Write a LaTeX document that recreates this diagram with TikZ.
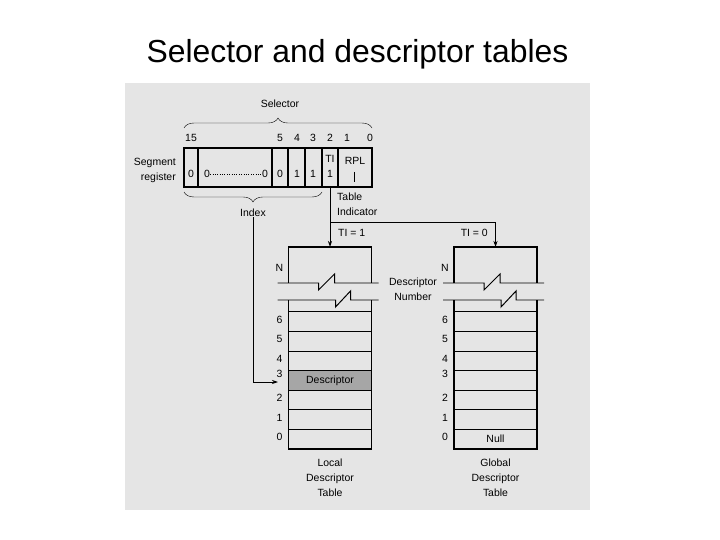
\documentclass[tikz,border=0pt]{standalone}
\usepackage{fontspec}
\setmainfont{Liberation Sans}
\usetikzlibrary{decorations.pathreplacing,arrows.meta}

\begin{document}
\begin{tikzpicture}[x=1bp, y=-1bp,
    lbl/.style={font=\fontsize{10.5}{15}\selectfont, inner sep=0pt, align=center},
    box/.style={line width=1.6pt},
    rowline/.style={line width=1pt},
    link/.style={line width=0.8pt, -{Stealth[length=6pt, width=4pt]}}]
    \useasboundingbox (0,0) rectangle (720,540);

    % 标题
    \node[font=\fontsize{32}{36}\selectfont, anchor=base] (title) at (357.5,63) {Selector and descriptor tables};

    % 扫描底色
    \fill[black!10] (125,83) rectangle (590,510);

    % 段寄存器
    \draw[box] (184,148) rectangle (372,187);
    \foreach \x in {198,272,288,305,322,338}
        \draw[box] (\x,148) -- (\x,187);
    \foreach \b/\x in {15/191,5/280,4/297,3/313,2/330,1/347,0/370}
        \node[lbl] (bit\b) at (\x,138) {\b};
    \foreach \v/\x [count=\i] in {0/191,0/280,1/297,1/313,1/330}
        \node[lbl] (val\i) at (\x,174) {\v};
    \node[lbl] (zl) at (207,174) {0};
    \node[lbl] (zr) at (265,174) {0};
    \draw[dotted] (zl) -- (zr);
    \node[lbl] (tibit) at (330,159) {TI};
    \node[lbl] (rpl) at (355,161) {RPL};
    \draw[line width=0.6pt] (354,172) -- (354,182);
    \node[lbl, align=right, anchor=east] (segreg) at (176,170) {Segment\\register};

    % 大括号
    \draw[decorate, decoration={brace, amplitude=10pt}] (184,128) -- (372,128);
    \node[lbl] (selector) at (280,104) {Selector};
    \draw[decorate, decoration={brace, amplitude=10pt}] (322,192) -- (184,192);
    \node[lbl] (index) at (253,213) {Index};

    % 表指示位
    \coordinate (ti) at (330,187);
    \coordinate (split) at (330,222);
    \node[lbl, align=left, anchor=west] (tind) at (337,204) {Table\\Indicator};
    \node[lbl, anchor=west] (ti1) at (338,233) {TI = 1};
    \node[lbl, anchor=east] (ti0) at (488,233) {TI = 0};

    % 描述符表
    \fill[black!35] (288.5,370.6) rectangle (371.5,390.2);
    \foreach \xl/\nm in {288.5/ldt, 454/gdt} {
        \draw[box] (\xl,283) -- (\xl,247) -- (\xl+83,247) -- (\xl+83,283);
        \coordinate (\nm top) at (\xl+41.5,247);
        \draw[rowline] (\xl-11,283) -- (\xl+30,283) -- (\xl+30,290) -- (\xl+46,274) -- (\xl+46,283) -- (\xl+90,283);
        \draw[rowline] (\xl-11,300) -- (\xl+47,300) -- (\xl+47,307) -- (\xl+62,291) -- (\xl+62,300) -- (\xl+90,300);
        \foreach \k in {1,...,7}
            \draw[rowline] (\xl,449-19.6*\k) -- (\xl+83,449-19.6*\k);
        \draw[box] (\xl,300) -- (\xl,449) -- (\xl+83,449) -- (\xl+83,300);
        \foreach \k in {0,1,2,4,5,6}
            \node[lbl] (\nm\k) at (\xl-9,447-19.6*\k-9.8) {\k};
        \node[lbl] (\nm3) at (\xl-9,374) {3};
        \node[lbl] (\nm-n) at (\xl-9,268) {N};
    }
    \node[lbl] (desc) at (330,380.4) {Descriptor};
    \node[lbl] (null) at (495.5,439) {Null};
    \node[lbl] (descnum) at (413,289) {Descriptor\\Number};
    \node[lbl] (ldtname) at (330,478) {Local\\Descriptor\\Table};
    \node[lbl] (gdtname) at (495.5,478) {Global\\Descriptor\\Table};

    % 连线
    \coordinate (row3in) at (278,382);
    \draw[link] (ti) -- (ldttop);
    \draw[link] (split) -| (gdttop);
    \draw[link] (index.south) |- (row3in);
\end{tikzpicture}
\end{document}
